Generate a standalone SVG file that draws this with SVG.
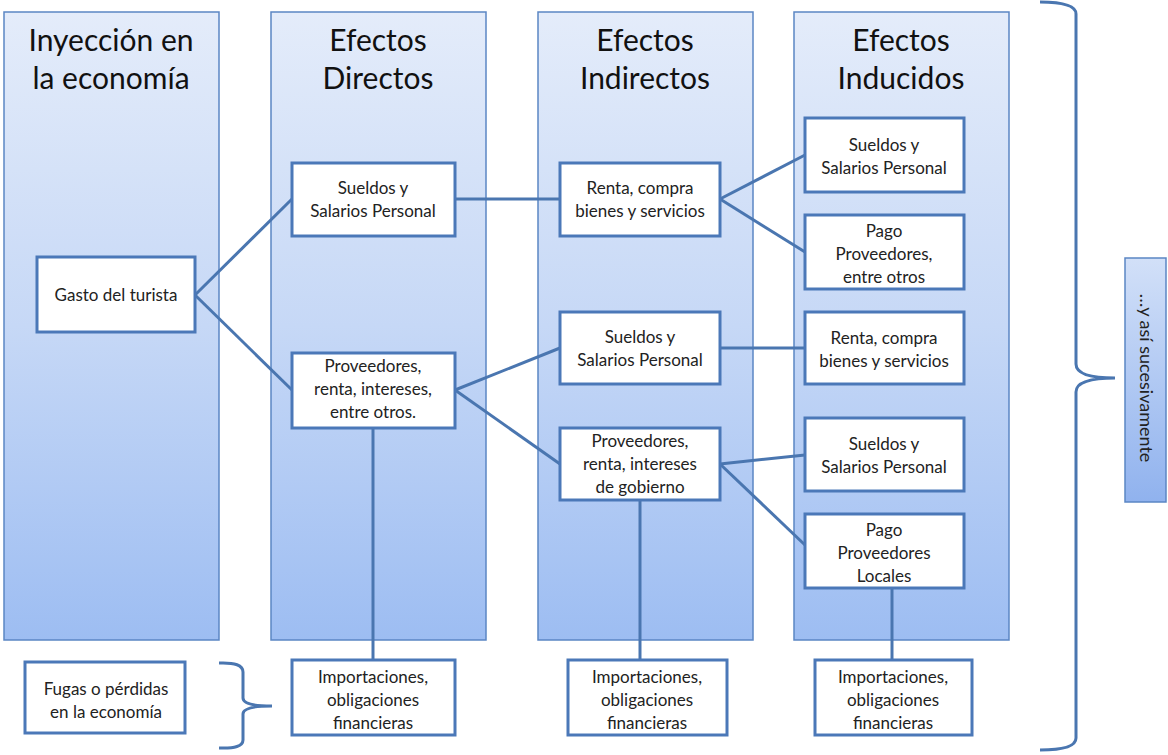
<svg xmlns="http://www.w3.org/2000/svg" width="1168" height="755" viewBox="0 0 1168 755">
<defs>
<linearGradient id="colg" x1="0" y1="0" x2="0" y2="1">
<stop offset="0" stop-color="#e4ecfa"/>
<stop offset="0.5" stop-color="#c6d8f6"/>
<stop offset="1" stop-color="#9dbdf2"/>
</linearGradient>
<linearGradient id="sideg" x1="0" y1="0" x2="0" y2="1">
<stop offset="0" stop-color="#d2e0f8"/>
<stop offset="1" stop-color="#90b2ee"/>
</linearGradient>
<style>
.col{fill:url(#colg);stroke:#5b86c4;stroke-width:1.5}
.box{fill:#ffffff;stroke:#4b78b8;stroke-width:3}
.hd{font-family:Lato,"Liberation Sans",sans-serif;font-size:30px;fill:#111;text-anchor:middle}
.tx{font-family:Lato,"Liberation Sans",sans-serif;font-size:17px;fill:#222;text-anchor:middle}
.ln{stroke:#4a76b0;stroke-width:3;fill:none}
.br{stroke:#4a76b0;stroke-width:3;fill:none}
</style>
</defs>
<rect width="1168" height="755" fill="#ffffff"/>
<g id="col1"><rect class="col" x="4" y="12" width="215" height="628"/><text class="hd" x="111" y="51">Inyección en</text><text class="hd" x="111" y="89">la economía</text></g>
<g id="col2"><rect class="col" x="271" y="12" width="215" height="628"/><text class="hd" x="378" y="51">Efectos</text><text class="hd" x="378" y="89">Directos</text></g>
<g id="col3"><rect class="col" x="538" y="12" width="215" height="628"/><text class="hd" x="645" y="51">Efectos</text><text class="hd" x="645" y="89">Indirectos</text></g>
<g id="col4"><rect class="col" x="794" y="12" width="215" height="628"/><text class="hd" x="901" y="51">Efectos</text><text class="hd" x="901" y="89">Inducidos</text></g>
<g id="connectors">
<line class="ln" x1="195" y1="295" x2="292" y2="199"/>
<line class="ln" x1="195" y1="295" x2="292" y2="390"/>
<line class="ln" x1="455" y1="199" x2="560" y2="199"/>
<line class="ln" x1="455" y1="390" x2="560" y2="348"/>
<line class="ln" x1="455" y1="390" x2="560" y2="464"/>
<line class="ln" x1="720" y1="199" x2="805" y2="155"/>
<line class="ln" x1="720" y1="199" x2="805" y2="252"/>
<line class="ln" x1="720" y1="348" x2="805" y2="348"/>
<line class="ln" x1="720" y1="464" x2="805" y2="455"/>
<line class="ln" x1="720" y1="464" x2="805" y2="545"/>
<line class="ln" x1="373" y1="428" x2="373" y2="660"/>
<line class="ln" x1="640" y1="500" x2="640" y2="660"/>
<line class="ln" x1="892" y1="588" x2="892" y2="660"/>
</g>
<g id="gasto"><rect class="box" x="37" y="257" width="158" height="75"/><text class="tx" x="116" y="301">Gasto del turista</text></g>
<g id="dir-sueldos"><rect class="box" x="292" y="163" width="163" height="73"/><text class="tx" x="373" y="194">Sueldos y</text><text class="tx" x="373" y="217">Salarios Personal</text></g>
<g id="dir-proveedores"><rect class="box" x="292" y="353" width="163" height="75"/><text class="tx" x="373" y="372">Proveedores,</text><text class="tx" x="373" y="395">renta, intereses,</text><text class="tx" x="373" y="418">entre otros.</text></g>
<g id="ind-renta"><rect class="box" x="560" y="163" width="160" height="73"/><text class="tx" x="640" y="194">Renta, compra</text><text class="tx" x="640" y="217">bienes y servicios</text></g>
<g id="ind-sueldos"><rect class="box" x="560" y="312" width="160" height="72"/><text class="tx" x="640" y="343">Sueldos y</text><text class="tx" x="640" y="366">Salarios Personal</text></g>
<g id="ind-proveedores"><rect class="box" x="560" y="428" width="160" height="72"/><text class="tx" x="640" y="447">Proveedores,</text><text class="tx" x="640" y="470">renta, intereses</text><text class="tx" x="640" y="493">de gobierno</text></g>
<g id="indu-sueldos1"><rect class="box" x="805" y="118" width="159" height="74"/><text class="tx" x="884" y="151">Sueldos y</text><text class="tx" x="884" y="174">Salarios Personal</text></g>
<g id="indu-pago1"><rect class="box" x="805" y="215" width="159" height="74"/><text class="tx" x="884" y="237">Pago</text><text class="tx" x="884" y="260">Proveedores,</text><text class="tx" x="884" y="283">entre otros</text></g>
<g id="indu-renta"><rect class="box" x="805" y="312" width="159" height="72"/><text class="tx" x="884" y="344">Renta, compra</text><text class="tx" x="884" y="367">bienes y servicios</text></g>
<g id="indu-sueldos2"><rect class="box" x="805" y="418" width="159" height="73"/><text class="tx" x="884" y="450">Sueldos y</text><text class="tx" x="884" y="473">Salarios Personal</text></g>
<g id="indu-pago2"><rect class="box" x="805" y="514" width="159" height="74"/><text class="tx" x="884" y="536">Pago</text><text class="tx" x="884" y="559">Proveedores</text><text class="tx" x="884" y="582">Locales</text></g>
<g id="fugas"><rect class="box" x="25" y="662" width="160" height="71"/><text class="tx" x="106" y="695">Fugas o pérdidas</text><text class="tx" x="106" y="718">en la economía</text></g>
<g id="imp1"><rect class="box" x="292" y="660" width="163" height="75"/><text class="tx" x="373" y="683">Importaciones,</text><text class="tx" x="373" y="706">obligaciones</text><text class="tx" x="373" y="729">financieras</text></g>
<g id="imp2"><rect class="box" x="568" y="660" width="159" height="75"/><text class="tx" x="647" y="683">Importaciones,</text><text class="tx" x="647" y="706">obligaciones</text><text class="tx" x="647" y="729">financieras</text></g>
<g id="imp3"><rect class="box" x="815" y="660" width="157" height="75"/><text class="tx" x="893" y="683">Importaciones,</text><text class="tx" x="893" y="706">obligaciones</text><text class="tx" x="893" y="729">financieras</text></g>
<g id="brace-small"><path class="br" d="M219,663 Q243,662 243,672 L243,698 Q243,706 272,706 Q243,706 243,714 L243,740 Q243,749 219,748"/></g>
<g id="brace-large"><path class="br" d="M1040,2 Q1076,2 1076,14 L1076,364 Q1076,378 1115,378 Q1076,378 1076,392 L1076,738 Q1076,750 1040,750"/></g>
<g id="side"><rect x="1125" y="258" width="41" height="244" fill="url(#sideg)" stroke="#5b86c4" stroke-width="1.5"/><text class="tx" style="font-size:18px" transform="translate(1140,378) rotate(90)" x="0" y="0">…y así sucesivamente</text></g>
</svg>
